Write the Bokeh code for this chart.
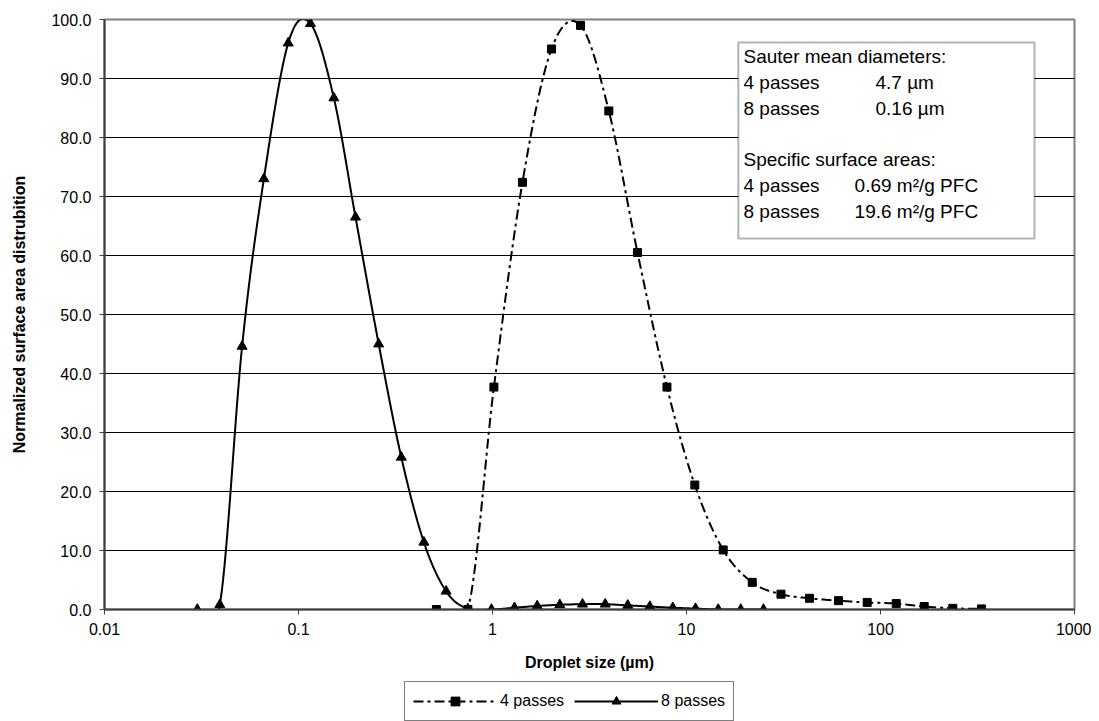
from bokeh.plotting import figure
from bokeh.layouts import column
from bokeh.models import (Range1d, FixedTicker, PrintfTickFormatter, Legend, LegendItem,
                          BoxAnnotation, Label)
from bokeh.embed import file_html
from bokeh.resources import INLINE
import math

# ---------------- data ----------------
size_4 = [0.514, 0.747, 1.017, 1.427, 2.014, 2.842, 3.977, 5.59, 7.93, 11.04,
          15.46, 21.82, 30.69, 43.05, 60.75, 85.4, 120.5, 168.0, 235.9, 331.6]
dist_4 = [0.0, 0.0, 37.7, 72.4, 95.0, 99.0, 84.5, 60.5, 37.7, 21.1,
          10.1, 4.6, 2.6, 1.9, 1.5, 1.2, 1.0, 0.5, 0.2, 0.1]

size_8 = [0.0301, 0.0393, 0.0512, 0.0663, 0.0885, 0.1153, 0.1521, 0.1967, 0.259, 0.3388,
          0.443, 0.5765, 0.7467, 0.988, 1.298, 1.70, 2.223, 2.91, 3.81, 4.98,
          6.47, 8.50, 11.13, 14.57, 19.05, 24.94]
dist_8 = [0.0, 0.8, 44.6, 73.0, 96.0, 99.3, 86.7, 66.5, 45.0, 25.8,
          11.4, 3.1, 0.1, 0.0, 0.3, 0.6, 0.8, 0.9, 0.9, 0.7,
          0.5, 0.3, 0.15, 0.0, 0.0, 0.0]

x_ticks = [0.01, 0.1, 1, 10, 100, 1000]
y_ticks = [0, 10, 20, 30, 40, 50, 60, 70, 80, 90, 100]
series_labels = ["4 passes", "8 passes"]

FONT = "Liberation Sans"

# frame geometry (px) used only for Excel-like smoothing in screen space
FW, FH = 970, 590
UX = FW / 5.0      # px per decade
UY = FH / 100.0    # px per unit


def smooth(xs, ys, n=24):
    """Excel-style smoothed line (Bezier with Catmull-Rom tangents) in screen space."""
    P = [(math.log10(x) * UX, y * UY) for x, y in zip(xs, ys)]
    out_x, out_y = [], []
    m = len(P)
    for i in range(m - 1):
        p0 = P[i - 1] if i > 0 else P[i]
        p1 = P[i]
        p2 = P[i + 1]
        p3 = P[i + 2] if i + 2 < m else P[i + 1]
        c1 = (p1[0] + (p2[0] - p0[0]) / 6.0, p1[1] + (p2[1] - p0[1]) / 6.0)
        c2 = (p2[0] - (p3[0] - p1[0]) / 6.0, p2[1] - (p3[1] - p1[1]) / 6.0)
        for k in range(n + (1 if i == m - 2 else 0)):
            t = k / n
            a = (1 - t) ** 3
            b = 3 * (1 - t) ** 2 * t
            c = 3 * (1 - t) * t ** 2
            d = t ** 3
            u = a * p1[0] + b * c1[0] + c * c2[0] + d * p2[0]
            v = a * p1[1] + b * c1[1] + c * c2[1] + d * p2[1]
            out_x.append(10 ** (u / UX))
            out_y.append(v / UY)
    return out_x, out_y


p = figure(frame_width=FW, frame_height=FH, x_axis_type="log",
           x_range=Range1d(0.01, 1000), y_range=Range1d(0, 100),
           output_backend="svg", toolbar_location=None,
           min_border_left=104, min_border_right=17, min_border_top=19, min_border_bottom=72)

p.background_fill_color = "white"
p.border_fill_color = "white"
p.outline_line_color = "#808080"
p.outline_line_width = 2

# axes
p.xaxis.ticker = FixedTicker(ticks=x_ticks, minor_ticks=[])
p.xaxis.formatter = PrintfTickFormatter(format="%g")
p.yaxis.ticker = FixedTicker(ticks=y_ticks, minor_ticks=[])
p.yaxis.formatter = PrintfTickFormatter(format="%.1f")
for ax in (p.xaxis, p.yaxis):
    ax.axis_line_color = "#404040"
    ax.axis_line_width = 2
    ax.major_tick_line_color = "#404040"
    ax.major_tick_in = 0
    ax.major_tick_out = 5
    ax.minor_tick_line_color = None
    ax.major_label_text_font = FONT
    ax.major_label_text_font_size = "16px"
    ax.major_label_text_color = "black"
    ax.axis_label_text_font = FONT
    ax.axis_label_text_font_size = "16px"
    ax.axis_label_text_font_style = "bold"
    ax.axis_label_text_color = "black"
p.xaxis.axis_label = "Droplet size (µm)"
p.yaxis.axis_label = "Normalized surface area distrubition"
p.xaxis.major_label_standoff = 8
p.xaxis.axis_label_standoff = 16
p.yaxis.major_label_standoff = 8
p.yaxis.axis_label_standoff = 20

p.xgrid.visible = False
p.ygrid.grid_line_color = "black"
p.ygrid.grid_line_width = 1

# series
sx4, sy4 = smooth(size_4, dist_4)
sx8, sy8 = smooth(size_8, dist_8)

DASH4 = "10 4 3 4"
p.line(sx4, sy4, line_color="black", line_width=2, line_dash=DASH4)
p.scatter(size_4, dist_4, marker="square", size=8, fill_color="black", line_color="black")
p.line(sx8, sy8, line_color="black", line_width=2)
p.scatter(size_8, dist_8, marker="triangle", size=10, fill_color="black", line_color="black")

# text box (annotation)
box = BoxAnnotation(left=18.5, right=622, bottom=62.9, top=96.1,
                    fill_color="white", fill_alpha=1, line_color="black", line_width=2,
                    level="overlay")
p.add_layout(box)

box_lines = [
    ("Sauter mean diameters:", None, 93.8),
    ("4 passes", "4.7 µm", 89.4),
    ("8 passes", "0.16 µm", 85.0),
    ("Specific surface areas:", None, 76.2),
    ("4 passes", "0.69  m²/g PFC", 71.8),
    ("8 passes", "19.6 m²/g PFC", 67.4),
]
val_x = {"4.7 µm": 94.2, "0.16 µm": 94.2, "0.69  m²/g PFC": 73.5, "19.6 m²/g PFC": 73.5}
for left_txt, right_txt, yy in box_lines:
    p.add_layout(Label(x=19.67, y=yy, text=left_txt, text_font=FONT, text_font_size="19px",
                       text_baseline="middle", text_color="black", level="overlay"))
    if right_txt:
        p.add_layout(Label(x=val_x[right_txt], y=yy, text=right_txt, text_font=FONT,
                           text_font_size="19px", text_baseline="middle",
                           text_color="black", level="overlay"))

# underlines of the two headings
ul1 = p.segment(x0=[19.67], y0=[91.8], x1=[221], y1=[91.8], line_color="black", line_width=1)
ul2 = p.segment(x0=[19.67], y0=[74.2], x1=[206], y1=[74.2], line_color="black", line_width=1)
ul1.level = "overlay"
ul2.level = "overlay"

# ---------------- legend strip below the chart ----------------
# same series drawn into a view range where they stay hidden; only the legend swatches show
lg = figure(width=FW + 104 + 17, height=40, output_backend="svg", toolbar_location=None,
            min_border=0, x_range=Range1d(0, 1), y_range=Range1d(1000, 1001))
lg.axis.visible = False
lg.grid.visible = False
lg.outline_line_color = None
lg.background_fill_color = "white"
lg.border_fill_color = "white"
gl4 = lg.line(size_4, dist_4, line_color="black", line_width=2, line_dash=DASH4)
gm4 = lg.scatter(size_4, dist_4, marker="square", size=8, fill_color="black", line_color="black")
gl8 = lg.line(size_8, dist_8, line_color="black", line_width=2)
gm8 = lg.scatter(size_8, dist_8, marker="triangle", size=10, fill_color="black", line_color="black")

legend = Legend(items=[LegendItem(label=series_labels[0], renderers=[gl4, gm4]),
                       LegendItem(label=series_labels[1], renderers=[gl8, gm8])],
                orientation="horizontal", location=(300, 0),
                border_line_color="black", border_line_width=1,
                glyph_width=84, glyph_height=22, label_height=22,
                label_standoff=3, spacing=10,
                padding=8, margin=0,
                label_text_font=FONT, label_text_font_size="16px",
                label_text_color="black",
                background_fill_color="white", background_fill_alpha=1)
lg.add_layout(legend, "center")

layout = column(p, lg, spacing=0)
open("out.html", "w").write(file_html(layout, INLINE))
